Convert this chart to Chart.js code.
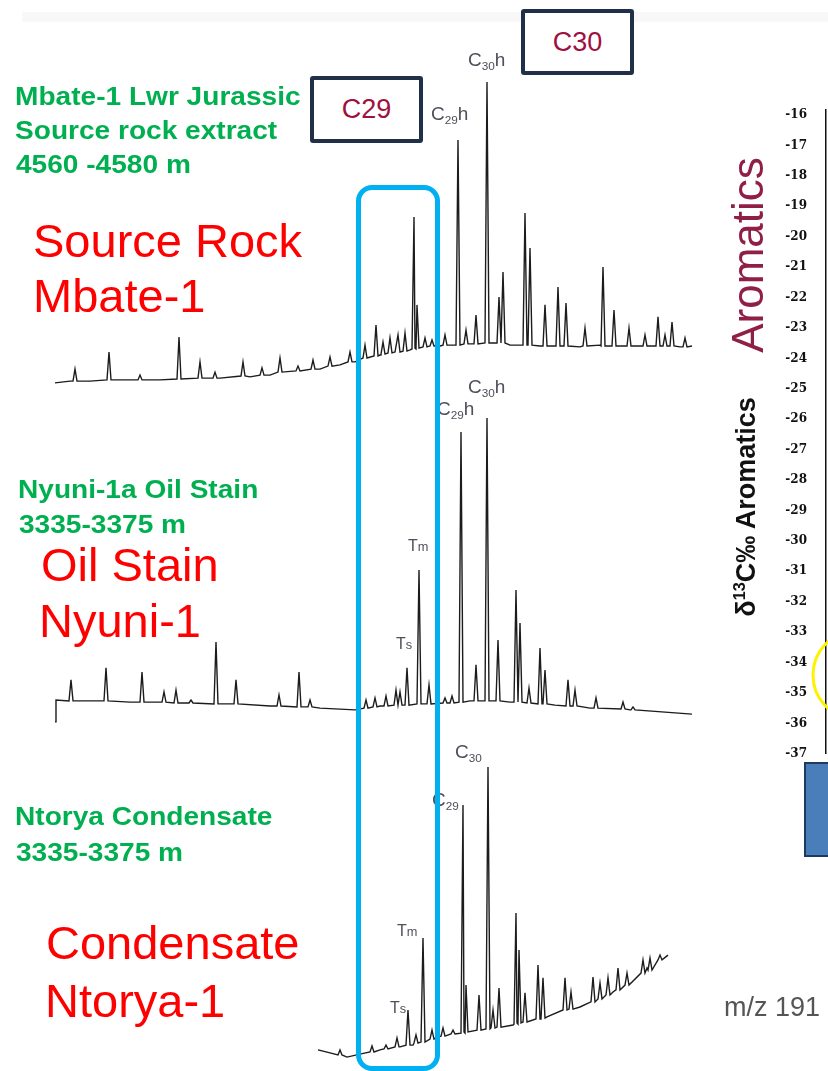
<!DOCTYPE html>
<html><head><meta charset="utf-8">
<script src="https://cdn.jsdelivr.net/npm/chart.js@4.4.1/dist/chart.umd.min.js"></script>
<style>
html,body{margin:0;padding:0;background:#fff;}
body{width:828px;height:1071px;position:relative;overflow:hidden;font-family:"Liberation Sans",Arial,sans-serif;}
canvas{position:absolute;left:0;}
.t{position:absolute;white-space:nowrap;line-height:1;}
.g{color:#00B050;font-weight:bold;font-size:26px;transform:scaleX(1.08);transform-origin:0 0;}
.r{color:#FF0000;font-size:47px;}
.pk{color:#4f4f5c;font-size:19px;}
.pk sub{font-size:0.62em;vertical-align:-0.32em;line-height:0;}
.pk2{color:#4f4f5c;font-size:16px;}
.pk2 sub{font-size:0.62em;vertical-align:-0.3em;line-height:0;}
.box{position:absolute;border:4px solid #1F3048;border-radius:3px;background:#fff;box-sizing:border-box;color:#A0103F;font-size:27px;display:flex;align-items:center;justify-content:center;}
</style>
</head><body>
<div style="position:absolute;left:22px;top:12px;width:806px;height:10px;background:#f8f8f8;"></div>

<canvas id="c1" width="828" height="333" style="top:61px"></canvas>
<canvas id="c2" width="828" height="339" style="top:391px"></canvas>
<canvas id="c3" width="828" height="327" style="top:740px"></canvas>
<canvas id="cax" width="58" height="680" style="left:770px;top:92px"></canvas>

<!-- green sample headers -->
<div class="t g" style="left:15px;top:83px">Mbate-1 Lwr Jurassic</div>
<div class="t g" style="left:15px;top:116.5px">Source rock extract</div>
<div class="t g" style="left:16px;top:151px">4560 -4580 m</div>
<div class="t g" style="left:18px;top:476px">Nyuni-1a Oil Stain</div>
<div class="t g" style="left:19px;top:511px">3335-3375 m</div>
<div class="t g" style="left:15px;top:803px">Ntorya Condensate</div>
<div class="t g" style="left:16px;top:839px">3335-3375 m</div>

<!-- red sample names -->
<div class="t r" style="left:33px;top:217px">Source Rock</div>
<div class="t r" style="left:33px;top:272px">Mbate-1</div>
<div class="t r" style="left:41px;top:541px">Oil Stain</div>
<div class="t r" style="left:39px;top:597px">Nyuni-1</div>
<div class="t r" style="left:46px;top:918.5px">Condensate</div>
<div class="t r" style="left:45px;top:977px">Ntorya-1</div>

<!-- peak labels -->
<div class="t pk" style="left:468px;top:50px">C<sub>30</sub>h</div>
<div class="t pk" style="left:431px;top:104px">C<sub>29</sub>h</div>
<div class="t pk" style="left:437px;top:399px">C<sub>29</sub>h</div>
<div class="t pk" style="left:468px;top:377px">C<sub>30</sub>h</div>
<div class="t pk2" style="left:408px;top:538px">T<span style="font-size:0.8em">m</span></div>
<div class="t pk2" style="left:396px;top:636px">T<span style="font-size:0.8em">s</span></div>
<div class="t pk" style="left:455px;top:742px">C<sub>30</sub></div>
<div class="t pk" style="left:432px;top:790px">C<sub>29</sub></div>
<div class="t pk2" style="left:397px;top:923px">T<span style="font-size:0.8em">m</span></div>
<div class="t pk2" style="left:390px;top:1000px">T<span style="font-size:0.8em">s</span></div>

<!-- boxes -->
<div class="box" style="left:310px;top:76px;width:113px;height:67px">C29</div>
<div class="box" style="left:521px;top:9px;width:113px;height:66px">C30</div>
<div style="position:absolute;left:356px;top:185px;width:84px;height:886px;border:5px solid #00B0F0;border-radius:16px;box-sizing:border-box;"></div>

<!-- right side -->
<div class="t" style="left:748px;top:255px;font-size:44px;color:#8F1F47;transform:translate(-50%,-50%) rotate(-90deg);">Aromatics</div>
<div class="t" style="left:746px;top:507px;font-size:27px;font-weight:bold;color:#111;transform:translate(-50%,-50%) rotate(-90deg);">δ<sup style="font-size:0.6em;line-height:0">13</sup>C‰ Aromatics</div>
<svg style="position:absolute;left:0;top:0" width="828" height="1071"><ellipse cx="852" cy="675" rx="39" ry="42" fill="none" stroke="#FFF200" stroke-width="3"/></svg>
<div style="position:absolute;left:804px;top:762px;width:40px;height:95px;background:#4A7EBB;border:2px solid #1F3A5F;box-sizing:border-box;"></div>
<div class="t" style="left:724px;top:994px;font-size:27px;color:#555;">m/z 191</div>

<script>
// ---- data: retention time (min), relative abundance (%) ----
// Source rock extract, Mbate-1: baseline [t, I] and peaks [t, foot, top]
const sourceBaseline = [[10.0,-0.3],[11.5,0.3],[13.5,0.3],[17.5,0.7],[20.5,0.7],[22.5,1.0],[26.5,1.3],[29.5,1.7],[31.5,2.3],[34.5,3.7],[36.5,4.3],[38.5,5.7],[40.0,6.7],[41.0,8.3],[42.5,9.0],[44.0,10.0],[45.5,10.7],[47.0,11.3],[48.5,12.0],[49.5,12.3],[51.5,12.7],[55.5,12.3],[58.5,12.0],[62.5,11.7],[64.5,12.3],[68.5,12.0],[70.5,12.3],[72.5,11.7],[73.7,12.0]];
const sourcePeaks = [[12.0,0.3,4.3],[15.4,0.7,10.0],[18.5,0.7,2.3],[22.4,1.0,15.0],[24.5,1.3,6.7],[26.0,1.3,3.3],[28.8,2.0,6.7],[30.7,2.3,4.7],[32.5,3.3,8.0],[34.3,3.7,5.3],[35.8,4.3,7.3],[37.5,5.3,8.3],[39.5,6.7,10.0],[41.0,8.0,12.3],[42.1,8.7,19.0],[42.8,9.3,13.3],[43.5,9.7,14.7],[44.3,10.0,15.7],[45.0,10.3,16.3],[45.9,11.0,55.0],[46.2,11.3,25.7],[47.0,11.7,14.7],[47.7,12.0,14.0],[49.0,12.3,15.7],[50.3,12.3,80.7],[51.1,12.7,17.3],[52.1,12.7,22.3],[53.2,13.0,100.0],[54.4,13.0,28.3],[54.8,13.0,36.7],[57.0,12.3,56.3],[57.5,12.3,44.7],[59.0,12.0,25.7],[60.3,12.0,31.7],[61.1,12.0,26.3],[63.0,12.0,18.0],[64.8,12.0,38.3],[65.9,12.0,24.0],[67.4,12.0,18.0],[69.0,12.0,15.7],[70.3,12.0,21.7],[71.0,12.0,15.7],[71.7,12.0,20.0],[73.0,11.7,14.7]];

// Oil stain, Nyuni-1
const oilBaseline = [[10.0,-3.3],[10.1,4.0],[13.5,3.7],[17.5,3.3],[22.5,3.0],[27.5,2.7],[31.5,2.0],[36.5,1.3],[40.0,0.7],[42.5,2.0],[46.5,2.7],[49.0,3.0],[51.5,3.7],[55.5,3.3],[60.0,2.3],[63.5,1.3],[67.5,0.7],[73.7,-0.7]];
const oilPeaks = [[11.6,3.7,10.7],[15.1,3.7,14.7],[18.7,3.3,13.3],[20.9,3.3,6.7],[22.1,3.0,7.3],[23.6,3.0,4.0],[26.1,2.7,23.3],[28.1,2.7,10.7],[32.4,2.0,5.7],[34.4,1.7,13.3],[35.5,1.7,4.0],[41.1,1.3,4.0],[42.0,1.7,4.7],[43.1,2.0,5.3],[44.1,2.3,7.3],[44.5,2.3,6.7],[45.2,2.3,14.7],[46.4,2.7,47.3],[47.4,2.7,9.0],[49.0,3.0,4.7],[49.7,3.0,5.3],[50.6,3.3,93.3],[52.1,3.7,15.7],[53.2,3.7,98.0],[54.3,3.7,24.0],[56.1,3.3,40.7],[56.5,3.3,29.7],[57.4,3.0,8.0],[58.5,2.7,21.3],[59.0,2.7,14.0],[61.3,2.0,10.7],[62.0,2.0,7.3],[64.1,1.3,4.7],[66.8,1.0,3.3],[67.8,0.7,1.7]];

// Condensate, Ntorya-1
const condBaseline = [[36.3,1.7],[37.5,0.7],[39.2,-0.7],[40.5,0.3],[42.5,1.7],[44.5,2.7],[45.8,3.3],[48.2,6.0],[51.2,7.7],[53.8,9.0],[55.8,10.0],[59.2,12.7],[62.5,16.0],[65.8,21.0],[69.2,29.0],[71.3,33.3]];
const condPeaks = [[38.5,0.0,1.7],[41.7,1.0,3.0],[43.1,2.0,3.3],[44.2,2.7,5.7],[45.3,3.3,15.0],[46.1,4.0,6.7],[46.8,4.3,39.0],[47.7,5.3,8.3],[48.8,6.3,9.0],[49.8,7.0,8.3],[50.8,7.3,83.3],[51.1,7.7,23.3],[52.4,8.3,20.0],[53.3,8.7,96.0],[53.8,9.0,15.0],[54.4,9.3,22.3],[56.1,10.3,47.3],[56.4,10.7,35.0],[57.0,11.0,20.7],[58.3,12.0,30.0],[58.8,12.3,25.7],[61.0,15.0,25.7],[61.6,15.3,21.0],[63.8,17.7,26.0],[64.5,18.7,24.0],[65.3,20.0,25.7],[66.3,21.7,29.0],[67.2,23.3,27.3],[68.8,27.3,31.7],[69.5,28.3,32.3],[70.5,31.7,33.3]];

// δ13C aromatics axis tick labels (‰)
const d13cTicks = [-16,-17,-18,-19,-20,-21,-22,-23,-24,-25,-26,-27,-28,-29,-30,-31,-32,-33,-34,-35,-36,-37];

// ---- build chromatogram lines ----
const HALF_WIDTH = 0.2;
function buildTrace(baseline, peaks) {
  const pts = [];
  peaks.forEach(([t, foot, top]) => {
    pts.push({x: t - HALF_WIDTH, y: foot}, {x: t, y: top}, {x: t + HALF_WIDTH, y: foot});
  });
  baseline.forEach(([t, v]) => {
    if (!peaks.some(p => Math.abs(p[0] - t) <= HALF_WIDTH + 0.05)) pts.push({x: t, y: v});
  });
  pts.sort((a, b) => a.x - b.x);
  return pts;
}

function traceChart(id, data, yMin, yMax) {
  new Chart(document.getElementById(id), {
    type: 'line',
    data: {datasets: [{data, borderColor: '#1c1c1c', borderWidth: 1.4, pointRadius: 0, tension: 0, fill: false, clip: false}]},
    options: {
      responsive: false, animation: false, events: [],
      layout: {padding: 0},
      plugins: {legend: {display: false}, tooltip: {enabled: false}},
      scales: {
        x: {type: 'linear', min: 4.5, max: 87.3, display: false},
        y: {type: 'linear', min: yMin, max: yMax, display: false}
      }
    }
  });
}

traceChart('c1', buildTrace(sourceBaseline, sourcePeaks), -4, 107);
traceChart('c2', buildTrace(oilBaseline, oilPeaks), -6, 107);
traceChart('c3', buildTrace(condBaseline, condPeaks), -4, 105);

// ---- δ13C axis ----
new Chart(document.getElementById('cax'), {
  type: 'line',
  data: {datasets: [{data: []}]},
  options: {
    responsive: false, animation: false, events: [],
    layout: {padding: {top: 6, bottom: 12, left: 0, right: 0}},
    plugins: {legend: {display: false}, tooltip: {enabled: false}},
    scales: {
      x: {type: 'linear', display: false, min: 0, max: 1},
      y: {
        type: 'linear', position: 'left',
        min: Math.min(...d13cTicks), max: Math.max(...d13cTicks) + 0.16,
        grid: {display: false},
        border: {display: true, color: '#111', width: 1.5},
        afterFit: s => { s.width = 56; },
        afterBuildTicks: s => { s.ticks = d13cTicks.map(v => ({value: v})); },
        ticks: {color: '#111', padding: 11, autoSkip: false, font: {family: 'DejaVu Serif', weight: 'bold', size: 12}, callback: v => String(v)}
      }
    }
  }
});
</script>
</body></html>
